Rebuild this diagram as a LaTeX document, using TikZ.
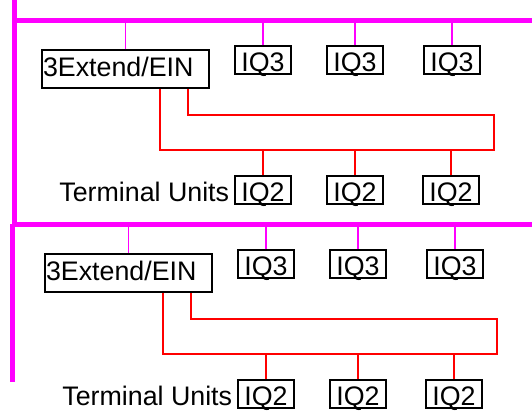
\documentclass[tikz,border=0pt]{standalone}
\usepackage{fontspec}
\setmainfont{Liberation Sans}
\usetikzlibrary{positioning}
\definecolor{busmag}{RGB}{255,0,255}
\definecolor{wirered}{RGB}{255,0,0}
\begin{document}
\begin{tikzpicture}
          [x=1pt,y=-1pt,font=\fontsize{26.8}{30}\selectfont,
           bus/.style={draw=busmag, line width=5pt},
           stub/.style={draw=busmag, line width=1.5pt},
           wire/.style={draw=wirered, line width=1.3pt},
           iqbox/.style={draw, line width=1.3pt, inner sep=0pt, minimum width=56pt, text height=25pt, text depth=3pt},
           einbox/.style={draw, line width=1.3pt, inner xsep=1pt, inner ysep=0pt, text width=165pt, align=left, text height=26pt, text depth=12pt}]
        \useasboundingbox (0,0) rectangle (532,410);
        \draw[bus] (14,0) -- (14,224);
        \draw[bus] (12,224) -- (12,382);

        \foreach \s/\dx/\dy in {a/0/0, b/3/204} {
          \begin{scope}[shift={(\dx,\dy)}]
            \coordinate (bus\s) at (12,20);
            \coordinate (end\s) at (532,20);
            \node[einbox] (ein\s) at (125.5,69) {3Extend/EIN};
            \node[iqbox] (iqc1\s) at (263,60) {IQ3};
            \node[iqbox] (iqc2\s) at (355,60) {IQ3};
            \node[iqbox] (iqc3\s) at (452,60) {IQ3};
            \node[iqbox] (iqt1\s) at (263,190) {IQ2};
            \node[iqbox] (iqt2\s) at (355,190) {IQ2};
            \node[iqbox] (iqt3\s) at (451,190) {IQ2};
            \node[inner sep=0pt, base left=5pt of iqt1\s] (tu\s) {Terminal Units};
            \coordinate (lo\s) at (494,150);
            \coordinate (hi\s) at (494,115);
          \end{scope}

          \draw[bus] (bus\s) -- (end\s);
          \foreach \n in {ein\s, iqc1\s, iqc2\s, iqc3\s}
            \draw[stub] (\n.north) -- (\n.north |- bus\s);
          \draw[wire] ([xshift=34.5pt]ein\s.south) |- (lo\s) -- (hi\s) -| ([xshift=62.5pt]ein\s.south);
          \foreach \n in {iqt1\s, iqt2\s, iqt3\s}
            \draw[wire] (\n.north) -- (\n.north |- lo\s);
        }
      \end{tikzpicture}
\end{document}
